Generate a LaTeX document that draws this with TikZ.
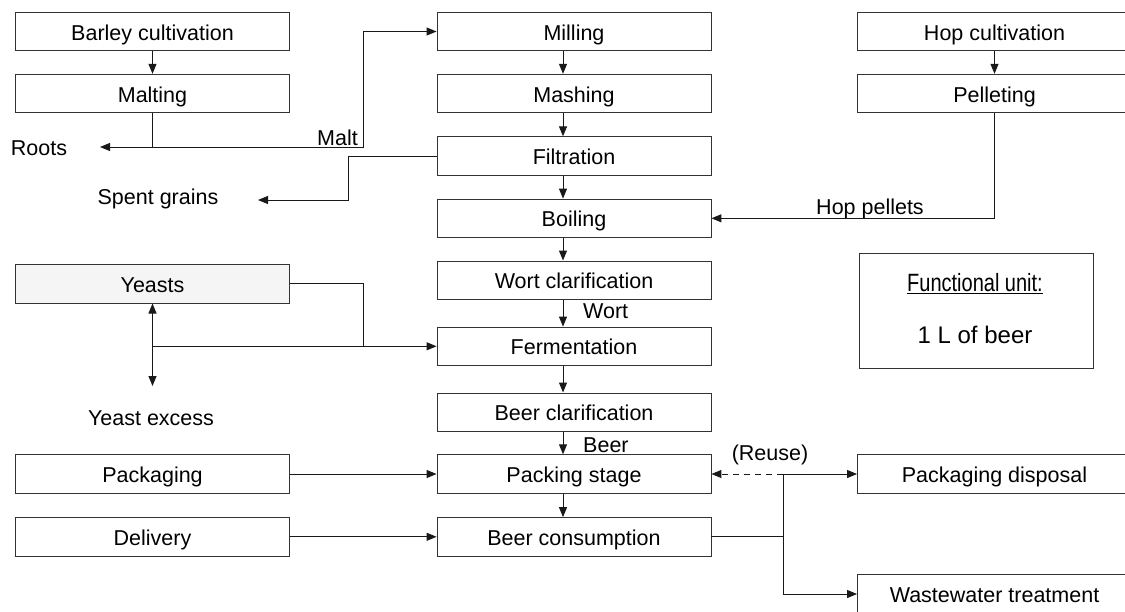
\documentclass[tikz,border=0pt]{standalone}
\usepackage{fontspec}
\usepackage{graphicx}
\setmainfont{Liberation Sans}
\usetikzlibrary{arrows.meta}
\begin{document}
\begin{tikzpicture}[x=1pt,y=-1pt,
  every node/.style={font=\fontsize{21.5}{24}\selectfont, inner sep=0pt, text=black},
  box/.style={draw=black!80, line width=0.9pt, minimum width=274pt, minimum height=38.5pt,
    text height=17pt, text depth=0pt, fill=white},
  lbl/.style={anchor=base},
  conn/.style={line width=1pt, draw=black!90},
  arr/.style={conn, -{Triangle[length=10pt,width=8pt]}},
  reuse/.style={arr, dash pattern=on 6pt off 5pt},
]
\useasboundingbox (0,0) rectangle (1125,611);
\clip (0,0) rectangle (1125,611);
\fill[white] (0,0) rectangle (1125,611);

% left column
\node[box] (barley) at (152.5,31.5) {Barley cultivation};
\node[box] (malting) at (152.5,93.5) {Malting};
\node[box, fill=black!4] (yeasts) at (152.5,283.8) {Yeasts};
\node[box] (packaging) at (152.5,474) {Packaging};
\node[box] (delivery) at (152.5,536.8) {Delivery};
% centre column
\node[box] (milling) at (574,31.5) {Milling};
\node[box] (mashing) at (574,93.5) {Mashing};
\node[box] (filtration) at (574,156) {Filtration};
\node[box] (boiling) at (574,218.3) {Boiling};
\node[box] (wortclar) at (574,280.2) {Wort clarification};
\node[box] (fermentation) at (574,346.3) {Fermentation};
\node[box] (beerclar) at (574,412.2) {Beer clarification};
\node[box] (packing) at (574,474) {Packing stage};
\node[box] (consumption) at (574,536.8) {Beer consumption};
% right column
\node[box] (hop) at (994.5,31.5) {Hop cultivation};
\node[box] (pelleting) at (994.5,93.5) {Pelleting};
\node[box] (disposal) at (994.5,474) {Packaging disposal};
\node[box] (wastewater) at (994.5,594) {Wastewater treatment};

% functional unit
\node[draw=black!80, line width=0.9pt, minimum width=234pt, minimum height=115pt] (fu) at (976,310.5) {};
\node[lbl] (futitle) at (975,291.7) {\fontsize{25}{27}\selectfont\scalebox{0.8}[1]{\underline{Functional unit:}}};
\node[lbl] (fuvalue) at (975,343.3) {\fontsize{24}{26}\selectfont 1 L of beer};

% free labels
\node[lbl] (roots) at (39,155.7) {Roots};
\node[lbl, anchor=base east] (malt) at (358,145) {Malt};
\node[lbl] (spent) at (158,204) {Spent grains};
\node[lbl] (excess) at (151,425) {Yeast excess};
\node[lbl] (hoppel) at (870,214.3) {Hop pellets};
\node[lbl, anchor=base west] (wort) at (583,318) {Wort};
\node[lbl, anchor=base west] (beer) at (583,452.7) {Beer};
\node[lbl] (reuse) at (770,460) {(Reuse)};

% coordinates
\coordinate (mj) at (152.5,147);
\coordinate (mc) at (363,147);
\coordinate (rootsend) at (100,147);
\coordinate (sgc) at (348,200);
\coordinate (sgend) at (258,200);
\coordinate (yj) at (152.5,346.3);
\coordinate (yc) at (363,346.3);
\coordinate (yend) at (152.5,386);
\coordinate (rj) at (783,536.8);
\coordinate (rt) at (783,474);

% left connectors
\draw[arr] (barley) -- (malting);
\draw[conn] (malting.south) -- (mj);
\draw[arr] (mj) -- (rootsend);
\draw[arr] (mj) -- (mc) |- (milling.west);
\draw[arr] (filtration.west) -| (sgc) -- (sgend);
\draw[conn] (yeasts.east) -| (yc);
\draw[arr] (yj) -- (fermentation.west);
\draw[arr] (yj) -- (yeasts.south);
\draw[arr] (yj) -- (yend);
\draw[arr] (packaging) -- (packing);
\draw[arr] (delivery) -- (consumption);

% centre column
\draw[arr] ([xshift=-11pt]milling.south) -- ([xshift=-11pt]mashing.north);
\draw[arr] ([xshift=-11pt]mashing.south) -- ([xshift=-11pt]filtration.north);
\draw[arr] ([xshift=-11pt]filtration.south) -- ([xshift=-11pt]boiling.north);
\draw[arr] ([xshift=-11pt]boiling.south) -- ([xshift=-11pt]wortclar.north);
\draw[arr] ([xshift=-11pt]wortclar.south) -- ([xshift=-11pt]fermentation.north);
\draw[arr] ([xshift=-11pt]fermentation.south) -- ([xshift=-11pt]beerclar.north);
\draw[arr] ([xshift=-11pt]beerclar.south) -- ([xshift=-11pt]packing.north);
\draw[arr] ([xshift=-11pt]packing.south) -- ([xshift=-11pt]consumption.north);

% right column
\draw[arr] (hop) -- (pelleting);
\draw[arr] (pelleting.south) |- (boiling.east);
\draw[conn] (consumption.east) -- (rj);
\draw[arr] (rj) |- (disposal.west);
\draw[arr] (rj) |- (wastewater.west);
\draw[reuse] (rt) -- (packing.east);
\end{tikzpicture}
\end{document}
